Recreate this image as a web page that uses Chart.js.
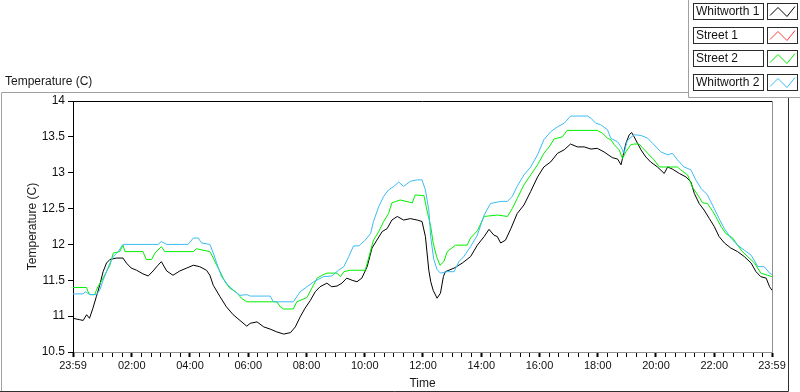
<!DOCTYPE html>
<html>
<head>
<meta charset="utf-8">
<script src="https://cdn.jsdelivr.net/npm/chart.js@4.4.1/dist/chart.umd.min.js"></script>
<style>
  html, body { margin: 0; padding: 0; background: #fff; }
  #wrap { position: relative; width: 800px; height: 392px; }
</style>
</head>
<body>
<div id="wrap"><canvas id="chart" width="800" height="392"></canvas></div>
<script>
// times are minutes after midnight, the trace starts at 23:59 the day before (-1)
const seriesNames = ['Whitworth 1', 'Street 1', 'Street 2', 'Whitworth 2'];
const seriesColors = ['#000000', '#ff3c3c', '#00f000', '#3cbcf4'];

const whitworth1Times = [-1, 13, 20, 27, 33, 40, 47, 54, 61, 68, 75, 88, 102, 109, 119, 130, 143, 154, 164, 174, 181, 192, 205, 219, 233, 247, 260, 274, 281, 288, 302, 315, 329, 343, 357,
  364, 378, 392, 405, 419, 433, 447, 457, 467, 477, 488, 498, 508, 522, 532, 543, 553, 563, 574, 584, 594, 605, 615, 625, 636, 646, 656, 667, 680, 694, 708, 718, 725, 732,
  736, 741, 749, 756, 762, 766, 784, 801, 818, 832, 846, 856, 866, 873, 880, 890, 901, 914, 928, 942, 956, 969, 983, 997, 1011, 1024, 1038, 1052, 1066, 1079, 1093,
  1110, 1121, 1128, 1131, 1138, 1145, 1150, 1155, 1162, 1169, 1179, 1189, 1203, 1217, 1224, 1234, 1248, 1262, 1272, 1279, 1289, 1299, 1310, 1320, 1330, 1341, 1354, 1368, 1382, 1396, 1406, 1416, 1427, 1434, 1439];
const whitworth1Temps = [10.97, 10.95, 10.94, 11.02, 10.97, 11.11, 11.27, 11.43, 11.62, 11.74, 11.79, 11.81, 11.81, 11.74, 11.67, 11.64, 11.59, 11.56, 11.63, 11.71, 11.76, 11.63, 11.57, 11.63, 11.67, 11.71, 11.69, 11.64, 11.57, 11.43, 11.27, 11.13, 11.02, 10.94, 10.86,
  10.90, 10.92, 10.85, 10.82, 10.78, 10.75, 10.77, 10.85, 10.99, 11.11, 11.22, 11.34, 11.41, 11.46, 11.41, 11.42, 11.46, 11.53, 11.50, 11.48, 11.53, 11.69, 11.95, 12.06, 12.18, 12.22, 12.34, 12.39, 12.34, 12.36, 12.34, 12.32, 12.11, 11.64,
  11.48, 11.36, 11.25, 11.32, 11.55, 11.62, 11.67, 11.74, 11.83, 11.99, 12.11, 12.21, 12.13, 12.11, 12.02, 12.06, 12.22, 12.43, 12.55, 12.74, 12.94, 13.08, 13.15, 13.27, 13.32, 13.40, 13.36, 13.36, 13.33, 13.34, 13.29,
  13.21, 13.19, 13.11, 13.20, 13.41, 13.53, 13.56, 13.50, 13.41, 13.32, 13.22, 13.15, 13.08, 12.99, 13.08, 13.05, 12.99, 12.94, 12.87, 12.71, 12.57, 12.48, 12.36, 12.25, 12.11, 12.02, 11.95, 11.90, 11.83, 11.74, 11.62, 11.55, 11.53, 11.41, 11.36];

// Street 1 has no samples on this day
const street1Times = [];
const street1Temps = [];

const street2Times = [-1, 27, 30, 34, 44, 47, 51, 57, 68, 75, 82, 95, 102, 106, 143, 150, 161, 168, 181, 188, 247, 253, 281, 288, 295, 302, 312, 322, 336, 346, 357,
  364, 378, 419, 426, 433, 453, 460, 481, 491, 502, 512, 522, 543, 550, 557, 570, 601, 608, 618, 629, 639, 649, 656, 673, 698, 704, 722, 728,
  736, 741, 748, 755, 763, 770, 787, 811, 818, 832, 846, 873, 894, 904, 914, 928, 942, 956, 969, 980, 990, 1007, 1017, 1079, 1090, 1100,
  1107, 1114, 1124, 1131, 1138, 1148, 1155, 1165, 1172, 1183, 1196, 1207, 1244, 1251, 1265, 1275, 1286, 1296, 1306, 1317, 1323, 1334, 1344, 1358, 1368, 1378, 1389, 1403, 1416, 1430, 1439];
const street2Temps = [11.40, 11.40, 11.34, 11.30, 11.30, 11.36, 11.42, 11.48, 11.62, 11.71, 11.88, 11.90, 11.99, 11.90, 11.90, 11.79, 11.79, 11.88, 11.97, 11.90, 11.90, 11.94, 11.90, 11.81, 11.71, 11.62, 11.48, 11.39, 11.33, 11.25, 11.20,
  11.20, 11.20, 11.20, 11.13, 11.10, 11.10, 11.20, 11.26, 11.39, 11.53, 11.57, 11.60, 11.60, 11.55, 11.62, 11.64, 11.64, 11.81, 12.06, 12.18, 12.32, 12.43, 12.58, 12.62, 12.58, 12.69, 12.68, 12.48,
  12.25, 12.02, 11.83, 11.71, 11.76, 11.90, 11.99, 11.99, 12.09, 12.19, 12.39, 12.41, 12.39, 12.50, 12.64, 12.83, 12.97, 13.11, 13.27, 13.36, 13.47, 13.50, 13.59, 13.59, 13.55, 13.48,
  13.46, 13.39, 13.32, 13.20, 13.29, 13.39, 13.40, 13.40, 13.35, 13.27, 13.18, 13.08, 13.08, 13.04, 12.97, 12.80, 12.69, 12.58, 12.57, 12.46, 12.39, 12.25, 12.15, 12.09, 11.99, 11.90, 11.83, 11.74, 11.60, 11.57, 11.55];

const whitworth2Times = [-1, 20, 24, 27, 34, 47, 54, 61, 68, 75, 82, 92, 102, 174, 181, 192, 236, 247, 257, 264, 281, 288, 295, 305, 319, 333, 343, 357,
  364, 405, 412, 453, 467, 477, 495, 515, 532, 546, 557, 567, 577, 588, 601, 612, 618, 629, 639, 649, 660, 670, 680, 694, 708, 718, 725, 732,
  736, 742, 749, 756, 770, 784, 794, 804, 818, 832, 846, 859, 880, 894, 904, 914, 928, 942, 956, 969, 983, 997, 1011, 1024, 1059, 1066, 1076, 1086, 1100,
  1107, 1121, 1128, 1134, 1141, 1155, 1169, 1183, 1193, 1210, 1224, 1234, 1244, 1258, 1272, 1282, 1293, 1306, 1320, 1330, 1341, 1354, 1368, 1382, 1396, 1410, 1423, 1434, 1439];
const whitworth2Temps = [11.31, 11.31, 11.34, 11.33, 11.30, 11.30, 11.36, 11.50, 11.62, 11.74, 11.83, 11.90, 12.00, 12.00, 12.04, 12.00, 12.00, 12.09, 12.09, 12.02, 12.00, 11.88, 11.74, 11.55, 11.43, 11.34, 11.29, 11.30,
  11.28, 11.28, 11.20, 11.20, 11.34, 11.39, 11.48, 11.55, 11.56, 11.64, 11.69, 11.83, 11.98, 11.98, 12.06, 12.15, 12.32, 12.53, 12.67, 12.76, 12.81, 12.87, 12.81, 12.88, 12.90, 12.90, 12.76, 12.48,
  12.10, 11.80, 11.65, 11.60, 11.62, 11.62, 11.76, 11.83, 11.97, 12.13, 12.41, 12.57, 12.60, 12.60, 12.67, 12.81, 12.97, 13.08, 13.25, 13.46, 13.57, 13.64, 13.69, 13.79, 13.79, 13.76, 13.69, 13.67, 13.60,
  13.48, 13.43, 13.36, 13.27, 13.45, 13.53, 13.52, 13.48, 13.41, 13.29, 13.25, 13.27, 13.18, 13.08, 13.04, 12.90, 12.78, 12.69, 12.50, 12.36, 12.22, 12.09, 11.99, 11.92, 11.85, 11.69, 11.69, 11.60, 11.58];

const xTickMinutes = [-1, 120, 240, 360, 480, 600, 720, 840, 960, 1080, 1200, 1320, 1439];
const xTickLabels = ['23:59', '02:00', '04:00', '06:00', '08:00', '10:00', '12:00', '14:00', '16:00', '18:00', '20:00', '22:00', '23:59'];
const yTicks = [10.5, 11, 11.5, 12, 12.5, 13, 13.5, 14];
const yTickLabels = ['10.5', '11', '11.5', '12', '12.5', '13', '13.5', '14'];

const FONT = '"Liberation Sans", Arial, sans-serif';

function toPoints(times, temps) {
  return times.map((t, i) => ({ x: t, y: temps[i] }));
}

const allTimes = [whitworth1Times, street1Times, street2Times, whitworth2Times];
const allTemps = [whitworth1Temps, street1Temps, street2Temps, whitworth2Temps];

const datasets = seriesNames.map((name, i) => ({
  label: name,
  data: toPoints(allTimes[i], allTemps[i]),
  borderColor: seriesColors[i],
  borderWidth: 1,
  pointRadius: 0,
  tension: 0,
  fill: false,
  order: 3 - i
}));

// LabVIEW style panel: frame, captions and the plot legend on the top right
const panel = {
  id: 'panel',
  beforeDraw(chart) {
    const ctx = chart.ctx;
    ctx.save();
    ctx.fillStyle = '#ffffff';
    ctx.fillRect(0, 0, chart.width, chart.height);
    ctx.restore();
  },
  afterDraw(chart) {
    const ctx = chart.ctx;
    const a = chart.chartArea;
    ctx.save();
    ctx.lineWidth = 1;

    // outer frame
    ctx.strokeStyle = '#a0a0a0';
    ctx.beginPath();
    ctx.moveTo(1.5, 392); ctx.lineTo(1.5, 92.5); ctx.lineTo(688.5, 92.5);
    ctx.moveTo(688.5, 0); ctx.lineTo(688.5, 97.5); ctx.lineTo(800, 97.5);
    ctx.stroke();
    ctx.strokeStyle = '#303030';
    ctx.beginPath();
    ctx.moveTo(788.5, 98); ctx.lineTo(788.5, 391.5); ctx.lineTo(0, 391.5);
    ctx.stroke();

    // plot border top (black) and right (grey)
    ctx.strokeStyle = '#000000';
    ctx.beginPath();
    ctx.moveTo(a.left, a.top + 0.5); ctx.lineTo(a.right, a.top + 0.5);
    ctx.stroke();
    ctx.strokeStyle = '#909090';
    ctx.beginPath();
    ctx.moveTo(a.right + 0.5, a.top); ctx.lineTo(a.right + 0.5, a.bottom);
    ctx.stroke();

    // captions
    ctx.fillStyle = '#1a1a1a';
    ctx.font = '12px ' + FONT;
    ctx.textBaseline = 'middle';
    ctx.textAlign = 'left';
    ctx.fillText('Temperature (C)', 5, 82);
    ctx.textAlign = 'center';
    ctx.fillText('Time', (a.left + a.right) / 2, 384);
    ctx.save();
    ctx.translate(33, (a.top + a.bottom) / 2);
    ctx.rotate(-Math.PI / 2);
    ctx.fillText('Temperature (C)', 0, 0);
    ctx.restore();

    // legend
    seriesNames.forEach((name, i) => {
      const top = 3 + i * 23.7;
      const y0 = Math.round(top) + 0.5;
      ctx.fillStyle = '#ffffff';
      ctx.fillRect(693, y0, 70, 16);
      ctx.fillRect(767, y0, 30, 16);
      ctx.strokeStyle = '#2a2a2a';
      ctx.strokeRect(693.5, y0, 70, 16);
      ctx.strokeRect(767.5, y0, 30, 16);
      ctx.fillStyle = '#111111';
      ctx.textAlign = 'left';
      ctx.fillText(name, 696, y0 + 8.5);
      ctx.strokeStyle = seriesColors[i];
      ctx.beginPath();
      ctx.moveTo(770, y0 + 12);
      ctx.lineTo(778, y0 + 4);
      ctx.lineTo(787, y0 + 13);
      ctx.lineTo(795, y0 + 3);
      ctx.stroke();
    });
    ctx.restore();
  }
};

const minorTicks = [];
for (let m = 20; m < 1439; m += 20) minorTicks.push(m);

new Chart(document.getElementById('chart'), {
  type: 'line',
  data: { datasets: datasets },
  options: {
    responsive: false,
    animation: false,
    layout: { padding: { left: 0, top: 101, right: 28, bottom: 0 } },
    plugins: {
      legend: { display: false },
      tooltip: { enabled: false }
    },
    scales: {
      x: {
        type: 'linear',
        min: -1,
        max: 1439,
        afterFit: (scale) => { scale.height = 40; },
        afterBuildTicks: (scale) => {
          const vals = [-1].concat(minorTicks, [1439]);
          scale.ticks = vals.map(v => ({ value: v, major: xTickMinutes.includes(v) }));
        },
        ticks: {
          autoSkip: false,
          maxRotation: 0,
          padding: 2,
          color: '#111111',
          font: { family: FONT, size: 11 },
          callback: (v) => {
            const k = xTickMinutes.indexOf(v);
            return k >= 0 ? xTickLabels[k] : '';
          }
        },
        grid: {
          drawOnChartArea: false,
          tickLength: 5,
          tickColor: '#000000',
          tickWidth: (ctx) => (ctx.tick && xTickMinutes.includes(ctx.tick.value) ? 2 : 1)
        },
        border: { display: true, color: '#909090', width: 1 }
      },
      y: {
        min: 10.5,
        max: 14,
        afterFit: (scale) => { scale.width = 73; },
        afterBuildTicks: (scale) => {
          scale.ticks = yTicks.map(v => ({ value: v }));
        },
        ticks: {
          padding: 3,
          color: '#111111',
          font: { family: FONT, size: 12 },
          callback: (v) => {
            const k = yTicks.indexOf(v);
            return k >= 0 ? yTickLabels[k] : '';
          }
        },
        grid: {
          drawOnChartArea: false,
          tickLength: 5,
          tickColor: '#000000'
        },
        border: { display: true, color: '#000000', width: 1 }
      }
    }
  },
  plugins: [panel]
});
</script>
</body>
</html>
